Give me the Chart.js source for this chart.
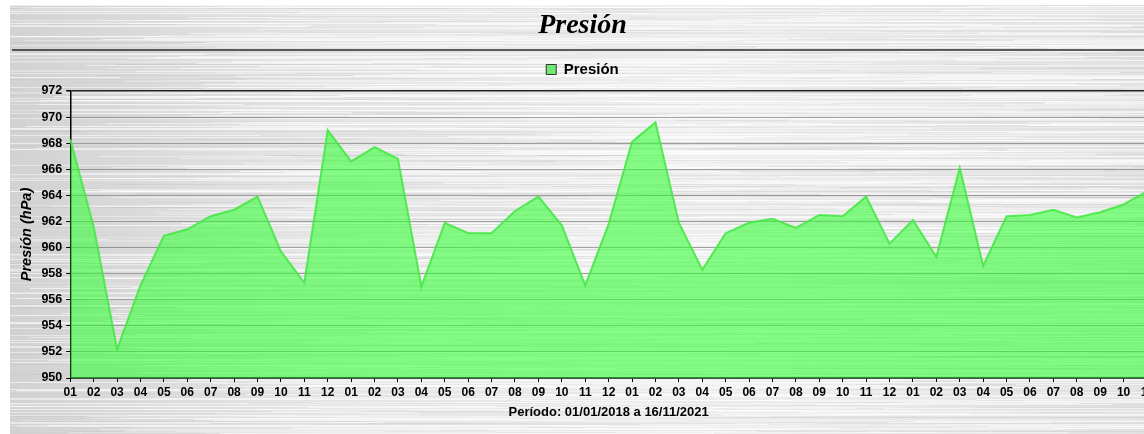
<!DOCTYPE html>
<html>
<head>
<meta charset="utf-8">
<title>Presión</title>
<script src="https://cdn.jsdelivr.net/npm/chart.js@4.4.1/dist/chart.umd.min.js"></script>
<style>
  html, body { margin: 0; padding: 0; overflow: hidden; background: #fff; }
  canvas { display: block; }
</style>
</head>
<body>
<canvas id="presion" width="1166" height="434"></canvas>
<script>
// monthly mean pressure (hPa), 01/2018 .. 11/2021
const months = ['01', '02', '03', '04', '05', '06', '07', '08', '09', '10', '11', '12'];
const pressure2018 = [968.3, 961.6, 952.2, 957.1, 960.9, 961.4, 962.4, 962.9, 963.9, 959.7, 957.3, 969.0];
const pressure2019 = [966.6, 967.7, 966.8, 957.0, 961.9, 961.1, 961.1, 962.8, 963.9, 961.7, 957.1, 961.8];
const pressure2020 = [968.1, 969.6, 961.9, 958.3, 961.1, 961.9, 962.2, 961.5, 962.5, 962.4, 963.9, 960.3];
const pressure2021 = [962.1, 959.3, 966.1, 958.6, 962.4, 962.5, 962.9, 962.3, 962.7, 963.3, 964.3];

const yMin = 950;
const yMax = 972;
const yStep = 2;

const labels = [...months, ...months, ...months, ...months.slice(0, pressure2021.length)];
const pressure = [...pressure2018, ...pressure2019, ...pressure2020, ...pressure2021];

const FONT = 'Liberation Sans, Arial, sans-serif';

// brushed metal background + line under the title
const metalBackground = {
    id: 'metalBackground',
    beforeDraw(chart) {
        const { ctx, width, height } = chart;
        const x0 = 10, y0 = 5;
        ctx.save();
        ctx.fillStyle = '#fff';
        ctx.fillRect(0, 0, width, height);

        const grad = ctx.createLinearGradient(x0, 0, width, 0);
        grad.addColorStop(0, '#d2d2d2');
        grad.addColorStop(0.25, '#e4e4e4');
        grad.addColorStop(0.6, '#ededed');
        grad.addColorStop(1, '#e0e0e0');
        ctx.fillStyle = grad;
        ctx.fillRect(x0, y0, width - x0, height - y0);

        let seed = 12345;
        const rnd = () => { seed = (seed * 16807) % 2147483647; return seed / 2147483647; };
        for (let y = y0; y < height; y++) {
            const n = 2 + Math.floor(rnd() * 4);
            for (let i = 0; i < n; i++) {
                const sx = x0 + rnd() * (width - x0) - 100;
                const len = 100 + rnd() * 600;
                if (rnd() > 0.3) {
                    ctx.fillStyle = 'rgba(255,255,255,' + (0.2 + rnd() * 0.45) + ')';
                } else {
                    ctx.fillStyle = 'rgba(150,150,150,' + (0.04 + rnd() * 0.1) + ')';
                }
                ctx.fillRect(Math.max(sx, x0), y, len, 1);
            }
        }
        ctx.restore();
    },
    afterDraw(chart) {
        const { ctx, width } = chart;
        const y = chart.titleBlock.bottom - 2;
        ctx.save();
        ctx.strokeStyle = '#2a2a2a';
        ctx.lineWidth = 1.5;
        ctx.beginPath();
        ctx.moveTo(12, y);
        ctx.lineTo(width, y);
        ctx.stroke();
        ctx.restore();
    }
};

// a little more room between the legend and the plot
const legendGap = {
    id: 'legendGap',
    afterInit(chart) {
        const legend = chart.legend;
        const fit = legend.fit;
        legend.fit = function () {
            fit.call(this);
            this.height += 4;
        };
    }
};

new Chart(document.getElementById('presion'), {
    type: 'line',
    data: {
        labels: labels,
        datasets: [{
            label: 'Presión',
            data: pressure,
            fill: 'start',
            backgroundColor: 'rgba(50,255,50,0.58)',
            borderColor: 'rgba(70,232,70,0.9)',
            borderWidth: 2,
            pointRadius: 0,
            tension: 0
        }]
    },
    options: {
        responsive: false,
        animation: false,
        events: [],
        layout: { padding: { left: 18, right: 19, top: 0, bottom: 8 } },
        plugins: {
            title: {
                display: true,
                text: 'Presión',
                color: '#000',
                font: { family: 'Liberation Serif, Times New Roman, serif', size: 28, style: 'italic', weight: 'bold' },
                padding: { top: 9, bottom: 9.4 }
            },
            legend: {
                display: true,
                labels: {
                    color: '#000',
                    boxWidth: 10,
                    boxHeight: 10,
                    padding: 10,
                    font: { family: FONT, size: 15, weight: 'bold' },
                    generateLabels: (chart) => Chart.defaults.plugins.legend.labels.generateLabels(chart).map(item => ({
                        ...item,
                        fillStyle: 'rgb(112,232,112)',
                        strokeStyle: '#333',
                        lineWidth: 1
                    }))
                }
            },
            tooltip: { enabled: false }
        },
        scales: {
            x: {
                type: 'category',
                offset: false,
                grid: { drawOnChartArea: false, tickLength: 4, tickColor: '#000', tickWidth: 1 },
                border: { color: '#000', width: 1.5 },
                ticks: {
                    autoSkip: false,
                    maxRotation: 0,
                    padding: 3,
                    color: '#000',
                    font: { family: FONT, size: 12, weight: 'bold' }
                },
                title: {
                    display: true,
                    text: 'Período: 01/01/2018 a 16/11/2021',
                    color: '#000',
                    font: { family: FONT, size: 13, weight: 'bold' },
                    padding: { top: 2, bottom: 6 }
                }
            },
            y: {
                min: yMin,
                max: yMax,
                ticks: {
                    stepSize: yStep,
                    padding: 4,
                    color: '#000',
                    font: { family: FONT, size: 12.5, weight: 'bold' }
                },
                grid: {
                    color: (c) => (c.tick && c.tick.value === yMax) ? '#222' : 'rgba(105,105,105,0.6)',
                    lineWidth: (c) => (c.tick && c.tick.value === yMax) ? 1.5 : 1,
                    tickLength: 4,
                    tickColor: '#000'
                },
                border: { color: '#000', width: 1.5 },
                title: {
                    display: true,
                    text: 'Presión (hPa)',
                    color: '#000',
                    font: { family: FONT, size: 14.5, style: 'italic', weight: 'bold' },
                    padding: { top: 0, bottom: 2 }
                }
            }
        }
    },
    plugins: [metalBackground, legendGap]
});
</script>
</body>
</html>
